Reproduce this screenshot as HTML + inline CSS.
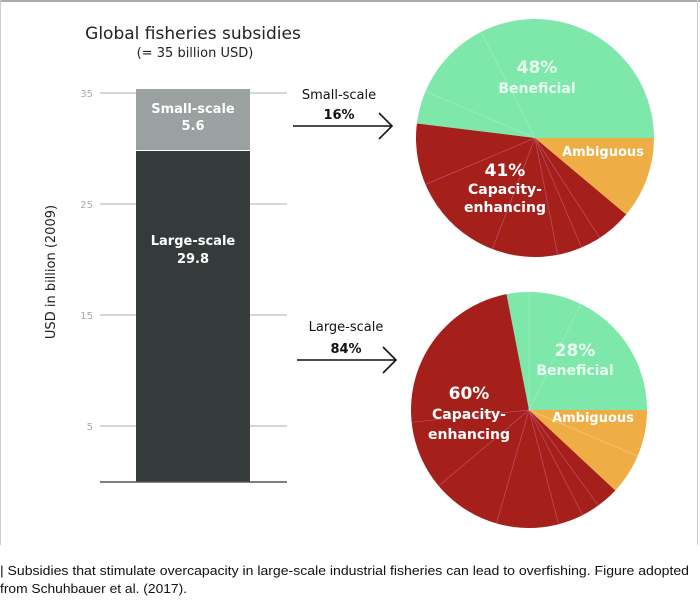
<!DOCTYPE html>
<html><head><meta charset="utf-8"><style>
html,body{margin:0;padding:0;background:#fff;}
svg{display:block;font-family:"DejaVu Sans","Liberation Sans",sans-serif;}
</style></head><body>
<svg id="s" width="700" height="614" viewBox="0 0 700 614" xmlns="http://www.w3.org/2000/svg">
<rect x="0" y="0" width="700" height="614" fill="#fff"/>
<line x1="0" y1="1" x2="700" y2="1" stroke="#aaa" stroke-width="2"/>
<line x1="0.5" y1="0" x2="0.5" y2="545" stroke="#ccc" stroke-width="1"/>
<line x1="697.5" y1="0" x2="697.5" y2="545" stroke="#ccc" stroke-width="1"/>
<text x="193" y="39" font-size="17" text-anchor="middle" fill="#222">Global fisheries subsidies</text>
<text x="195" y="57" font-size="13" text-anchor="middle" fill="#222">(= 35 billion USD)</text>
<g stroke="#c8cccc" stroke-width="1.5">
<line x1="100" y1="93" x2="287" y2="93"/><line x1="100" y1="204" x2="287" y2="204"/>
<line x1="100" y1="315" x2="287" y2="315"/><line x1="100" y1="426" x2="287" y2="426"/>
</g>
<g font-size="10" fill="#aaa" text-anchor="end">
<text x="93" y="97">35</text><text x="93" y="208">25</text><text x="93" y="319">15</text><text x="93" y="430">5</text>
</g>
<text transform="translate(55,272) rotate(-90)" font-size="13" text-anchor="middle" fill="#222">USD in billion (2009)</text>
<rect x="136" y="89" width="114" height="61" fill="#9ba1a0"/>
<rect x="136" y="151" width="114" height="331" fill="#353a3a"/>
<line x1="100" y1="482" x2="287" y2="482" stroke="#555" stroke-width="1.5"/>
<g font-size="13" font-weight="bold" fill="#fff" text-anchor="middle">
<text x="193" y="113">Small-scale</text><text x="193" y="130">5.6</text>
<text x="193" y="245">Large-scale</text><text x="193" y="263">29.8</text>
</g>
<g font-size="13" fill="#111" text-anchor="middle">
<text x="339" y="99">Small-scale</text><text x="339" y="119" font-weight="bold">16%</text>
<text x="346" y="331">Large-scale</text><text x="346" y="353" font-weight="bold">84%</text>
</g>
<g stroke="#111" stroke-width="1.6" fill="none">
<line x1="293" y1="126" x2="391" y2="126"/><polyline points="379,113 392,126 379,139"/>
<line x1="297" y1="360" x2="395" y2="360"/><polyline points="383,347 396,360 383,373"/>
</g>
<g id="pies"></g>
<g font-weight="bold" fill="#fff" text-anchor="middle">
<text x="537" y="73" font-size="17" fill="#eafff2">48%</text>
<text x="537" y="93" font-size="14" fill="#eafff2">Beneficial</text>
<text x="603" y="156" font-size="13">Ambiguous</text>
<text x="505" y="176" font-size="17">41%</text>
<text x="505" y="194" font-size="14">Capacity-</text>
<text x="505" y="212" font-size="14">enhancing</text>
<text x="575" y="356" font-size="17" fill="#eafff2">28%</text>
<text x="575" y="375" font-size="14" fill="#eafff2">Beneficial</text>
<text x="593" y="422" font-size="13">Ambiguous</text>
<text x="469" y="399" font-size="17">60%</text>
<text x="469" y="419" font-size="14">Capacity-</text>
<text x="469" y="439" font-size="14">enhancing</text>
</g>
<g font-family="Liberation Sans, Arial, sans-serif" font-size="13" fill="#111">
<text x="0" y="575" textLength="689" lengthAdjust="spacingAndGlyphs">| Subsidies that stimulate overcapacity in large-scale industrial fisheries can lead to overfishing. Figure adopted</text>
<text x="0" y="593" textLength="187" lengthAdjust="spacingAndGlyphs">from Schuhbauer et al. (2017).</text>
</g>
</svg>
<script>
var NS="http://www.w3.org/2000/svg",g=document.getElementById("pies");
function P(cx,cy,r,a){a=a*Math.PI/180;return [cx+r*Math.cos(a),cy+r*Math.sin(a)];}
function wedge(cx,cy,r,a0,a1,col){var p=P(cx,cy,r,a0),q=P(cx,cy,r,a1),l=(a1-a0)>180?1:0;
var e=document.createElementNS(NS,"path");e.setAttribute("d","M"+cx+","+cy+"L"+p[0]+","+p[1]+"A"+r+","+r+" 0 "+l+" 1 "+q[0]+","+q[1]+"Z");e.setAttribute("fill",col);g.appendChild(e);}
function sep(cx,cy,r,a,col){var p=P(cx,cy,r,a);var e=document.createElementNS(NS,"line");e.setAttribute("x1",cx);e.setAttribute("y1",cy);e.setAttribute("x2",p[0]);e.setAttribute("y2",p[1]);e.setAttribute("stroke",col);e.setAttribute("stroke-width","0.7");g.appendChild(e);}
var G="#7de8aa",O="#eeae45",R="#a51f1b";
wedge(535,138,119,-173,0,G);wedge(535,138,119,0,40,O);wedge(535,138,119,40,187,R);
[157,111,79,67,57].forEach(function(a){sep(535,138,119,a,"#c0506a");});
[-117,-157].forEach(function(a){sep(535,138,119,a,"#9cf0c0");});
wedge(529,410,118,-101,0,G);wedge(529,410,118,0,43,O);wedge(529,410,118,43,259,R);
[174,140,106,75.5,63,54].forEach(function(a){sep(529,410,118,a,"#c0506a");});
[-64,-90].forEach(function(a){sep(529,410,118,a,"#9cf0c0");});
sep(529,410,118,23,"#f5c77a");
</script>
</body></html>
